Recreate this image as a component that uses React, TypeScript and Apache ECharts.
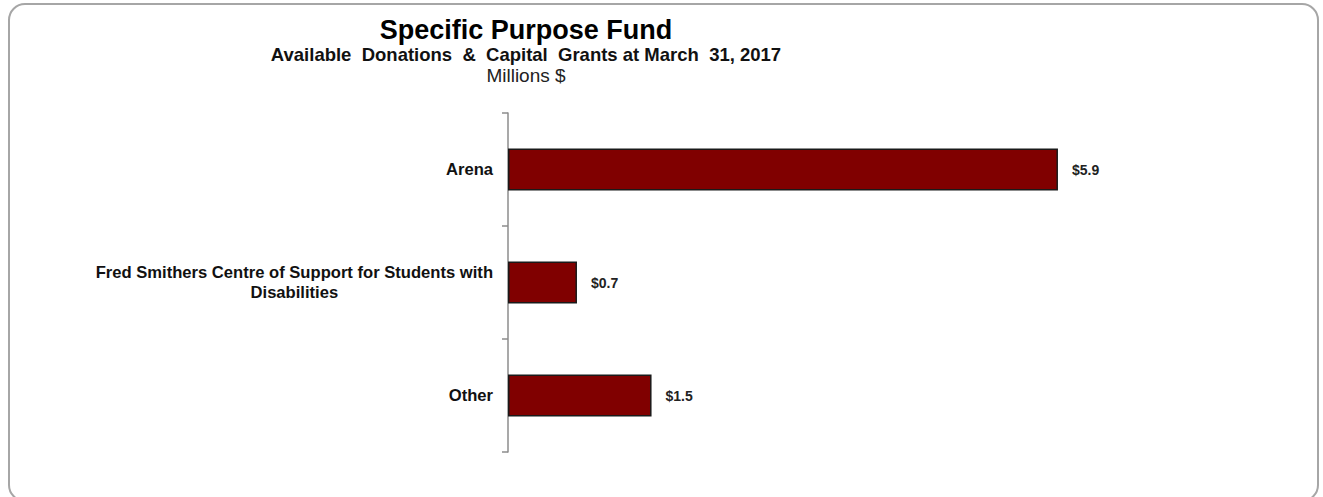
import React, { useEffect, useRef } from "react";
import * as echarts from "echarts";

const categories = [
  "Arena",
  "Fred Smithers Centre of Support for Students with\nDisabilities",
  "Other",
];
const values = [5.9, 0.74, 1.54];
const titleText = "Specific Purpose Fund";
const subtitleText = "Available  Donations  &  Capital  Grants at March  31, 2017";
const unitText = "Millions $";

export default function App() {
  const ref = useRef<HTMLDivElement>(null);
  useEffect(() => {
    if (!ref.current) return;
    const chart = echarts.init(ref.current, undefined, { renderer: "svg" });
    const font = "Liberation Sans, Arial, sans-serif";
    chart.setOption({
      animation: false,
      backgroundColor: "#ffffff",
      title: [
        {
          text: titleText,
          left: 526,
          top: 16,
          textAlign: "center",
          padding: 0,
          textStyle: { fontSize: 27, fontWeight: "bold", color: "#000", fontFamily: font, lineHeight: 27 },
        },
        {
          text: subtitleText,
          left: 526,
          top: 46,
          textAlign: "center",
          padding: 0,
          textStyle: { fontSize: 18.5, fontWeight: "bold", color: "#111", fontFamily: font, lineHeight: 16 },
        },
        {
          text: unitText,
          left: 526,
          top: 67,
          textAlign: "center",
          padding: 0,
          textStyle: { fontSize: 19, fontWeight: "normal", color: "#222", fontFamily: font, lineHeight: 17 },
        },
      ],
      graphic: [
        {
          type: "rect",
          shape: { x: 9, y: 4, width: 1309, height: 497, r: 16 },
          style: { fill: "none", stroke: "#a6a6a6", lineWidth: 2 },
          silent: true,
          z: -10,
        },
      ],
      grid: { left: 508, top: 113, bottom: 45, right: 162.5, containLabel: false },
      xAxis: {
        type: "value",
        min: 0,
        max: 7,
        show: false,
      },
      yAxis: {
        type: "category",
        inverse: true,
        data: categories,
        axisLine: { show: true, lineStyle: { color: "#8c8c8c", width: 1.5 } },
        axisTick: { show: true, length: 6, lineStyle: { color: "#8c8c8c", width: 1.5 } },
        splitLine: { show: false },
        axisLabel: {
          margin: 15,
          formatter: (v: string) =>
            v
              .split("\n")
              .map((l) => `{c|${l}}`)
              .join("\n"),
          rich: {
            c: {
              align: "center",
              fontSize: 16.6,
              fontWeight: "bold",
              color: "#111",
              fontFamily: font,
              lineHeight: 20,
            },
          },
        },
      },
      series: [
        {
          type: "bar",
          data: values,
          barWidth: 42,
          itemStyle: { color: "#800000", borderColor: "#1a1a1a", borderWidth: 1.5 },
          label: {
            show: true,
            position: "right",
            distance: 14,
            formatter: (p: any) => "$" + Number(p.value).toFixed(1),
            fontSize: 14,
            fontWeight: "bold",
            color: "#222",
            fontFamily: font,
          },
        },
      ],
    });
    return () => chart.dispose();
  }, []);
  return (
    <div
      ref={ref}
      style={{ position: "absolute", left: 0, top: 0, width: 1323, height: 497 }}
    />
  );
}
